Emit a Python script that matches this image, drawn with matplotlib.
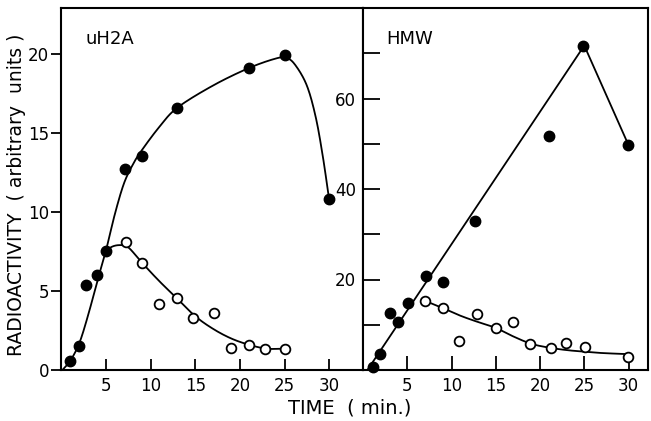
import numpy as np
import matplotlib
matplotlib.use('Agg')
import matplotlib.pyplot as plt

plt.rcParams['font.family'] = ['DejaVu Sans']

# --- datos ---
# uH2A, puntos llenos
uh2a_t_fill = [1, 2, 2.8, 4, 5, 7.1, 9, 13, 21, 25, 30]
uh2a_v_fill = [0.6, 1.5, 5.35, 6.0, 7.55, 12.7, 13.55, 16.55, 19.1, 19.95, 10.8]
# uH2A, puntos abiertos
uh2a_t_open = [7.2, 9, 10.9, 12.9, 14.7, 17.1, 19, 21, 22.8, 25]
uh2a_v_open = [8.1, 6.8, 4.15, 4.55, 3.3, 3.6, 1.4, 1.6, 1.35, 1.35]
# curvas trazadas a mano (nodos)
uh2a_fit_fill_t = [0.1, 1, 2, 3, 4, 5, 6, 7, 8, 9, 11, 13, 17, 21, 24, 25.2, 26.2, 27.5, 28.5, 29.3, 30]
uh2a_fit_fill_v = [0.0, 0.6, 1.7, 3.5, 5.6, 7.6, 9.9, 11.8, 13.0, 13.9, 15.4, 16.6, 18.0, 19.1, 19.7, 19.75, 19.3, 18.0, 16.0, 13.5, 10.8]
uh2a_fit_open_t = [4.8, 5.5, 6.5, 7.5, 9, 11, 13, 15, 17, 19, 21, 23, 25]
uh2a_fit_open_v = [7.3, 7.75, 7.9, 7.75, 6.8, 5.6, 4.5, 3.4, 2.6, 2.0, 1.6, 1.35, 1.35]

# HMW, puntos llenos
hmw_t_fill = [1.15, 1.9, 3, 4, 5.1, 7.1, 9, 12.7, 21, 24.9, 29.9]
hmw_v_fill = [0.7, 3.5, 12.7, 10.5, 14.9, 20.8, 19.5, 32.9, 51.7, 71.7, 49.7]
hmw_t_open = [7, 9, 10.9, 12.9, 15, 17, 18.9, 21.2, 22.9, 25.1, 29.9]
hmw_v_open = [15.3, 13.6, 6.3, 12.3, 9.35, 10.5, 5.75, 4.95, 5.9, 5.15, 2.8]
hmw_fit_fill_t = [0.5, 25, 30]
hmw_fit_fill_v = [0.0, 71.7, 49.7]
hmw_fit_open_t = [7, 9, 11, 13, 15, 17, 19, 21, 23, 25, 27, 30]
hmw_fit_open_v = [15.3, 13.7, 12.0, 10.6, 9.3, 7.4, 5.8, 4.95, 4.4, 4.05, 3.75, 3.5]


def catmull_rom(xs, ys, n=20):
    """Curva suave que pasa por los nodos"""
    p = np.column_stack([xs, ys]).astype(float)
    p = np.vstack([2 * p[0] - p[1], p, 2 * p[-1] - p[-2]])
    out = []
    s = np.linspace(0, 1, n, endpoint=False)[:, None]
    for i in range(1, len(p) - 2):
        p0, p1, p2, p3 = p[i - 1], p[i], p[i + 1], p[i + 2]
        seg = 0.5 * ((2 * p1) + (-p0 + p2) * s + (2 * p0 - 5 * p1 + 4 * p2 - p3) * s ** 2
                     + (-p0 + 3 * p1 - 3 * p2 + p3) * s ** 3)
        out.append(seg)
    out.append(p[-2][None, :])
    out = np.vstack(out)
    return out[:, 0], out[:, 1]


W, H = 651, 421
fig = plt.figure(figsize=(W / 100, H / 100), dpi=100)
ax1 = fig.add_axes([61.5 / W, (H - 370) / H, 301.5 / W, 362 / H])
ax2 = fig.add_axes([363 / W, (H - 370) / H, 285 / W, 362 / H])

LW = 1.3
MS = 7.5
FS = 12

# panel izquierdo
x, y = catmull_rom(uh2a_fit_fill_t, uh2a_fit_fill_v)
ax1.plot(x, y, color='black', lw=LW)
x, y = catmull_rom(uh2a_fit_open_t, uh2a_fit_open_v)
ax1.plot(x, y, color='black', lw=LW)
ax1.plot(uh2a_t_fill, uh2a_v_fill, 'o', color='black', ms=MS, zorder=3)
ax1.plot(uh2a_t_open, uh2a_v_open, 'o', mfc='white', mec='black', mew=1.3, ms=MS - 0.5, zorder=3)
ax1.set_xlim(0, 33.8)
ax1.set_ylim(0, 22.9)
ax1.set_xticks([5, 10, 15, 20, 25, 30])
ax1.set_yticks([0, 5, 10, 15, 20])
ax1.tick_params(axis='y', direction='out', length=7, width=1.3, labelsize=FS, pad=2)
ax1.tick_params(axis='x', direction='in', length=8, width=1.3, labelsize=FS, pad=5)
ax1.text(0.08, 0.9, 'uH2A', transform=ax1.transAxes, fontsize=13)

# panel derecho
ax2.plot(hmw_fit_fill_t, hmw_fit_fill_v, color='black', lw=LW)
x, y = catmull_rom(hmw_fit_open_t, hmw_fit_open_v)
ax2.plot(x, y, color='black', lw=LW)
ax2.plot(hmw_t_fill, hmw_v_fill, 'o', color='black', ms=MS, zorder=3, clip_on=False)
ax2.plot(hmw_t_open, hmw_v_open, 'o', mfc='white', mec='black', mew=1.3, ms=MS - 0.5, zorder=3)
ax2.set_xlim(0, 32.2)
ax2.set_ylim(0, 80)
ax2.set_xticks([5, 10, 15, 20, 25, 30])
ax2.set_yticks(range(0, 80, 10))
ax2.set_yticklabels(['', '', '20', '', '40', '', '60', ''])
ax2.tick_params(axis='y', direction='in', length=12, width=1.3, labelsize=FS, pad=5)
ax2.tick_params(axis='x', direction='in', length=10, width=1.3, labelsize=FS, pad=5)
ax2.text(0.08, 0.9, 'HMW', transform=ax2.transAxes, fontsize=13)

for ax in (ax1, ax2):
    for sp in ax.spines.values():
        sp.set_linewidth(1.5)

fig.text(17 / W, 1 - 195 / H, 'RADIOACTIVITY  ( arbitrary  units )', rotation=90,
         ha='center', va='center', fontsize=13.5)
fig.text(350 / W, 1 - 408 / H, 'TIME  ( min.)', ha='center', va='center', fontsize=14)

fig.savefig('out.png', dpi=100)
